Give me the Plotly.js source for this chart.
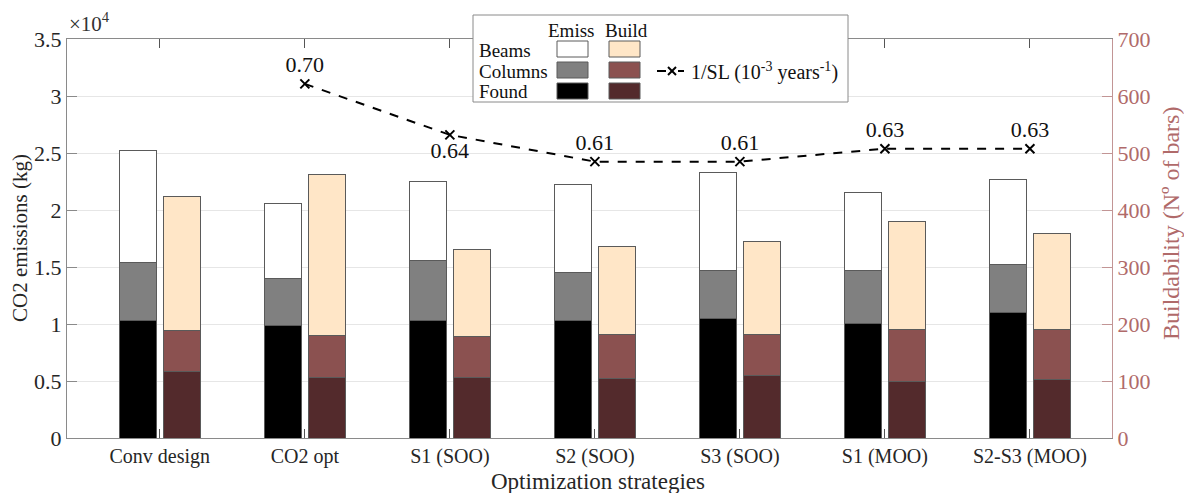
<!DOCTYPE html>
<html>
<head>
<meta charset="utf-8">
<script src="https://cdn.plot.ly/plotly-3.0.1.min.js"></script>
<style>
  html, body { margin: 0; padding: 0; background: #fff; }
  #chart { width: 1184px; height: 493px; }
</style>
</head>
<body>
<div id="chart"></div>
<script>
// ---- data ----
const categories = ['Conv design', 'CO2 opt', 'S1 (SOO)', 'S2 (SOO)', 'S3 (SOO)', 'S1 (MOO)', 'S2-S3 (MOO)'];

// CO2 emissions (kg), stacked segments
const emissFound   = [10350, 9850, 10350, 10320, 10470, 10060, 11000];
const emissColumns = [5050, 4150, 5250, 4240, 4240, 4590, 4260];
const emissBeams   = [9800, 6600, 6900, 7690, 8560, 6900, 7430];

// Buildability (No of bars), stacked segments
const buildFound   = [116, 107, 106, 105, 109, 99, 103];
const buildColumns = [72, 72, 72, 76, 72, 92, 88];
const buildBeams   = [236, 284, 152, 155, 164, 188, 168];

// 1/SL (10^-3 years^-1)
const slValues = [null, 0.70, 0.641, 0.61, 0.61, 0.625, 0.625];
const slLabels = [null, '0.70', '0.64', '0.61', '0.61', '0.63', '0.63'];
const slLabelPos = ['top center', 'top center', 'bottom center', 'top center', 'top center', 'top center', 'top center'];

const leftTickVals = [0, 5000, 10000, 15000, 20000, 25000, 30000, 35000];
const leftTickText = ['0', '0.5', '1', '1.5', '2', '2.5', '3', '3.5'];

// ---- styling ----
const FONT = '"Liberation Serif", "DejaVu Serif", serif';
const RED = '#B06A6A';
const OUTL = '#5a5a5a';
const C = {
  eBeams: '#FFFFFF', eCols: '#808080', eFound: '#000000',
  bBeams: '#FFE6C7', bCols: '#8B5150', bFound: '#532A2C'
};
const W = 0.255;
const offE = -0.28, offB = 0.025;

function barTrace(y, color, axis, off, name) {
  return {
    type: 'bar', x: categories, y: y, name: name,
    yaxis: axis, width: W, offset: off,
    marker: { color: color, line: { color: OUTL, width: 1 } },
    hoverinfo: 'skip', showlegend: false
  };
}

const traces = [
  barTrace(emissFound, C.eFound, 'y', offE, 'Emiss Found'),
  barTrace(emissColumns, C.eCols, 'y', offE, 'Emiss Columns'),
  barTrace(emissBeams, C.eBeams, 'y', offE, 'Emiss Beams'),
  barTrace(buildFound, C.bFound, 'y2', offB, 'Build Found'),
  barTrace(buildColumns, C.bCols, 'y2', offB, 'Build Columns'),
  barTrace(buildBeams, C.bBeams, 'y2', offB, 'Build Beams'),
  {
    type: 'scatter', mode: 'lines+markers+text', x: categories, y: slValues,
    yaxis: 'y3', connectgaps: false,
    line: { color: '#000', width: 2, dash: 'dash' },
    marker: { symbol: 'x-thin', size: 9, line: { color: '#000', width: 2 }, color: '#000' },
    text: slLabels, textposition: slLabelPos,
    textfont: { family: FONT, size: 22, color: '#111' },
    showlegend: false, hoverinfo: 'skip', cliponaxis: false
  }
];

// legend geometry helpers (pixel -> paper)
const PL = 67, PR = 1112, PT = 39, PB = 438;
const px = v => (v - PL) / (PR - PL);
const py = v => (PB - v) / (PB - PT);

const shapes = [
  { type: 'rect', xref: 'paper', yref: 'paper', x0: px(473), x1: px(848), y0: py(102), y1: py(15),
    fillcolor: '#fff', line: { color: '#8a8a8a', width: 1 }, layer: 'above' }
];
const swatchRows = [[41, 57], [62, 78], [83, 99]];
const eCols = [C.eBeams, C.eCols, C.eFound];
const bCols = [C.bBeams, C.bCols, C.bFound];
swatchRows.forEach((r, i) => {
  shapes.push({ type: 'rect', xref: 'paper', yref: 'paper', x0: px(557), x1: px(588), y0: py(r[1]), y1: py(r[0]),
    fillcolor: eCols[i], line: { color: OUTL, width: 1 }, layer: 'above' });
  shapes.push({ type: 'rect', xref: 'paper', yref: 'paper', x0: px(609), x1: px(640), y0: py(r[1]), y1: py(r[0]),
    fillcolor: bCols[i], line: { color: OUTL, width: 1 }, layer: 'above' });
});
// line legend sample
shapes.push({ type: 'line', xref: 'paper', yref: 'paper', x0: px(657), x1: px(687), y0: py(71), y1: py(71),
  line: { color: '#000', width: 2, dash: 'dash' }, layer: 'above' });
shapes.push({ type: 'rect', xref: 'paper', yref: 'paper', x0: px(666), x1: px(678), y0: py(77), y1: py(65),
  fillcolor: '#fff', line: { width: 0 }, layer: 'above' });
shapes.push({ type: 'line', xref: 'paper', yref: 'paper', x0: px(668), x1: px(676), y0: py(75), y1: py(67),
  line: { color: '#000', width: 2 }, layer: 'above' });
shapes.push({ type: 'line', xref: 'paper', yref: 'paper', x0: px(668), x1: px(676), y0: py(67), y1: py(75),
  line: { color: '#000', width: 2 }, layer: 'above' });

const af = { family: FONT, size: 19, color: '#111' };
const annotations = [
  { xref: 'paper', yref: 'paper', x: 0, y: 1, xanchor: 'left', yanchor: 'bottom', yshift: 1,
    text: '×10<sup>4</sup>', showarrow: false, font: { family: FONT, size: 21, color: '#333' } },
  { xref: 'paper', yref: 'paper', x: px(571), y: py(30), text: 'Emiss', showarrow: false, font: af, xanchor: 'center', yanchor: 'middle' },
  { xref: 'paper', yref: 'paper', x: px(626), y: py(30), text: 'Build', showarrow: false, font: af, xanchor: 'center', yanchor: 'middle' },
  { xref: 'paper', yref: 'paper', x: px(477), y: py(50), text: 'Beams', showarrow: false, font: af, xanchor: 'left', yanchor: 'middle' },
  { xref: 'paper', yref: 'paper', x: px(477), y: py(71), text: 'Columns', showarrow: false, font: af, xanchor: 'left', yanchor: 'middle' },
  { xref: 'paper', yref: 'paper', x: px(477), y: py(91), text: 'Found', showarrow: false, font: af, xanchor: 'left', yanchor: 'middle' },
  { xref: 'paper', yref: 'paper', x: px(689), y: py(71), text: '1/SL (10<sup>-3</sup> years<sup>-1</sup>)', showarrow: false,
    font: { family: FONT, size: 20, color: '#111' }, xanchor: 'left', yanchor: 'middle' },
  // axis titles
  { xref: 'paper', yref: 'paper', x: px(20), y: py(238), textangle: -90, text: 'CO2 emissions (kg)', showarrow: false,
    font: { family: FONT, size: 21, color: '#262626' }, xanchor: 'center', yanchor: 'middle' },
  { xref: 'paper', yref: 'paper', x: px(1171), y: py(224), textangle: -90, text: 'Buildability (Nº of bars)', showarrow: false,
    font: { family: FONT, size: 24, color: RED }, xanchor: 'center', yanchor: 'middle' },
  { xref: 'paper', yref: 'paper', x: px(598), y: py(481), text: 'Optimization strategies', showarrow: false,
    font: { family: FONT, size: 23, color: '#262626' }, xanchor: 'center', yanchor: 'middle' }
];

const layout = {
  width: 1184, height: 493,
  margin: { l: PL, r: 1184 - PR, t: PT, b: 493 - PB },
  paper_bgcolor: '#fff', plot_bgcolor: '#fff',
  barmode: 'stack',
  showlegend: false,
  font: { family: FONT, size: 20, color: '#262626' },
  xaxis: {
    type: 'category', range: [-0.64, 6.566],
    showline: true, linecolor: '#8a8a8a', linewidth: 1, mirror: 'ticks',
    ticks: 'inside', ticklen: 9, tickcolor: '#555', tickwidth: 1,
    showgrid: false, zeroline: false,
    tickfont: { family: FONT, size: 20, color: '#262626' }
  },
  yaxis: {
    range: [0, 35000], tickvals: leftTickVals, ticktext: leftTickText,
    showline: true, linecolor: '#8a8a8a', linewidth: 1,
    ticks: 'inside', ticklen: 10, tickcolor: '#8a8a8a',
    showgrid: true, gridcolor: '#e6e6e6', gridwidth: 1, zeroline: false,
    tickfont: { family: FONT, size: 22, color: '#262626' }
  },
  yaxis2: {
    overlaying: 'y', side: 'right', range: [0, 700], dtick: 100, tick0: 0,
    showline: true, linecolor: '#C29595', linewidth: 1,
    ticks: 'inside', ticklen: 10, tickcolor: '#C29595',
    showgrid: false, zeroline: false,
    tickfont: { family: FONT, size: 22, color: RED }
  },
  yaxis3: {
    overlaying: 'y', side: 'right', range: [0.290, 0.752], visible: false, fixedrange: true
  },
  shapes: shapes,
  annotations: annotations
};

Plotly.newPlot('chart', traces, layout, { displayModeBar: false, staticPlot: true });
</script>
</body>
</html>
